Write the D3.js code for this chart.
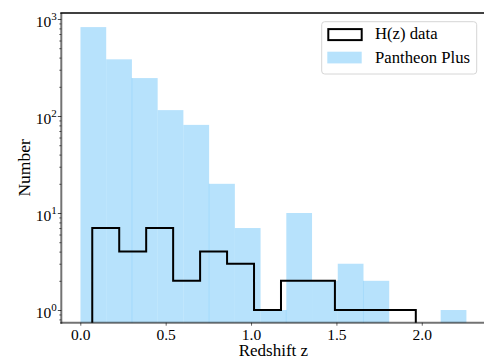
<!DOCTYPE html>
<html>
<head>
<meta charset="utf-8">
<script src="https://cdn.jsdelivr.net/npm/d3@7"></script>
<style>
body { margin: 0; background: #fff; }
text { font-family: "Liberation Serif", "Times New Roman", serif; fill: #000; }
</style>
</head>
<body>
<svg id="chart" width="484" height="358"></svg>
<script>
// Pantheon+ redshift histogram, 15 equal bins
var panZMin = 0.001, panZMax = 2.26137;
var panCounts = [825, 384, 246, 115, 81, 20, 7, 1, 10, 2, 3, 2, 0, 0, 1];
// H(z) cosmic chronometer histogram, 12 equal bins
var hzZMin = 0.07, hzZMax = 1.965;
var hzCounts = [7, 4, 7, 2, 4, 3, 1, 2, 2, 1, 1, 1];
var xTicks = [0.0, 0.5, 1.0, 1.5, 2.0];
var yTicks = [1, 10, 100, 1000];
var legendLabels = ['H(z) data', 'Pantheon Plus'];

var svg = d3.select('#chart');
var axLeft = 61.3, axRight = 485.6, axTop = 13, axBottom = 322.7;

var x = d3.scaleLinear().domain([-0.1113, 2.3738]).range([axLeft, axRight]);
var y = d3.scaleLog().domain([0.74, 1153]).range([axBottom, axTop]);

function edges(lo, hi, n) {
    var w = (hi - lo) / n, out = [];
    for (var i = 0; i <= n; i++) out.push(lo + i * w);
    return out;
}
var panEdges = edges(panZMin, panZMax, panCounts.length);
var hzEdges = edges(hzZMin, hzZMax, hzCounts.length);

var blue = '#87cefa';

// pantheon bars
svg.append('g').selectAll('rect')
    .data(panCounts.map(function (c, i) { return {c: c, x0: panEdges[i], x1: panEdges[i + 1]}; })
        .filter(function (d) { return d.c > 0; }))
    .enter().append('rect')
    .attr('x', function (d) { return x(d.x0); })
    .attr('width', function (d) { return x(d.x1) - x(d.x0); })
    .attr('y', function (d) { return y(d.c); })
    .attr('height', function (d) { return axBottom - y(d.c); })
    .attr('fill', blue)
    .attr('fill-opacity', 0.6);

// faint seams where neighbouring bars overlap (antialiasing in the original)
var seams = [];
panEdges.forEach(function (e, i) {
    if (i % 3 == 2 && i < panCounts.length && panCounts[i - 1] > 0 && panCounts[i] > 0)
        seams.push({x: e, c: Math.min(panCounts[i - 1], panCounts[i])});
});
svg.append('g').selectAll('line')
    .data(seams)
    .enter().append('line')
    .attr('x1', function (d) { return x(d.x); })
    .attr('x2', function (d) { return x(d.x); })
    .attr('y1', function (d) { return y(d.c); })
    .attr('y2', axBottom)
    .attr('stroke', blue)
    .attr('stroke-opacity', 0.45)
    .attr('stroke-width', 1);

// H(z) step outline
var stepPts = [[hzEdges[0], 0.74]];
hzCounts.forEach(function (c, i) {
    stepPts.push([hzEdges[i], c]);
    stepPts.push([hzEdges[i + 1], c]);
});
stepPts.push([hzEdges[hzEdges.length - 1], 0.74]);
svg.append('path')
    .attr('d', d3.line().x(function (d) { return x(d[0]); }).y(function (d) { return y(d[1]); })(stepPts))
    .attr('fill', 'none')
    .attr('stroke', '#000')
    .attr('stroke-width', 2)
    .attr('stroke-linejoin', 'miter');

// x axis
var xAxis = svg.append('g')
    .attr('transform', 'translate(0,' + axBottom + ')')
    .call(d3.axisBottom(x).tickValues(xTicks).tickSize(3).tickPadding(3.2).tickFormat(d3.format('.1f')));
xAxis.select('.domain').remove();
xAxis.selectAll('line').attr('stroke', '#000').attr('stroke-opacity', 0.6);
xAxis.selectAll('text').style('font-size', '15.5px').attr('font-family', null);

// y axis major + minor ticks
var minors = [];
[0.1, 1, 10, 100, 1000].forEach(function (b) {
    for (var k = 2; k <= 9; k++) {
        var v = b * k;
        if (v >= 0.74 && v <= 1153) minors.push(v);
    }
});
var yMinor = svg.append('g')
    .attr('transform', 'translate(' + axLeft + ',0)')
    .call(d3.axisLeft(y).tickValues(minors).tickSize(2).tickFormat(''));
yMinor.select('.domain').remove();
yMinor.selectAll('line').attr('stroke', '#000').attr('stroke-opacity', 0.6);

var yAxis = svg.append('g')
    .attr('transform', 'translate(' + axLeft + ',0)')
    .call(d3.axisLeft(y).tickValues(yTicks).tickSize(3.5).tickFormat(''));
yAxis.select('.domain').remove();
yAxis.selectAll('line').attr('stroke', '#000').attr('stroke-opacity', 0.7);

var yLab = svg.append('g').selectAll('text')
    .data(yTicks)
    .enter().append('text')
    .attr('x', axLeft - 4.5)
    .attr('y', function (d) { return y(d) + 8; })
    .attr('text-anchor', 'end')
    .style('font-size', '15.5px');
yLab.append('tspan').text('10');
yLab.append('tspan')
    .attr('dy', -7)
    .style('font-size', '11px')
    .text(function (d) { return String(Math.round(Math.log10(d))); });

// spines
svg.append('line').attr('x1', axLeft).attr('x2', axLeft).attr('y1', axTop).attr('y2', axBottom + 1)
    .attr('stroke', '#000').attr('stroke-opacity', 0.55).attr('stroke-width', 2);
svg.append('line').attr('x1', axLeft - 1).attr('x2', axRight).attr('y1', axBottom).attr('y2', axBottom)
    .attr('stroke', '#000').attr('stroke-opacity', 0.55).attr('stroke-width', 2);
svg.append('line').attr('x1', axLeft - 1).attr('x2', axRight).attr('y1', axTop).attr('y2', axTop)
    .attr('stroke', '#000').attr('stroke-width', 1.3);

// axis titles
svg.append('text')
    .attr('x', (axLeft + axRight) / 2)
    .attr('y', 355.5)
    .attr('text-anchor', 'middle')
    .style('font-size', '17px')
    .text('Redshift z');
svg.append('text')
    .attr('transform', 'translate(30,' + (axTop + axBottom) / 2 + ') rotate(-90)')
    .attr('text-anchor', 'middle')
    .style('font-size', '17.5px')
    .text('Number');

// legend
var lg = svg.append('g').attr('transform', 'translate(321.7,21.7)');
lg.append('rect')
    .attr('width', 155).attr('height', 52.3).attr('rx', 3)
    .attr('fill', '#fff').attr('fill-opacity', 0.8)
    .attr('stroke', '#d6d6d6').attr('stroke-width', 1);
lg.append('rect')
    .attr('x', 6.6).attr('y', 7.4).attr('width', 33.4).attr('height', 11)
    .attr('fill', 'none').attr('stroke', '#000').attr('stroke-width', 2);
lg.append('rect')
    .attr('x', 5.6).attr('y', 30).attr('width', 34.4).attr('height', 11.7)
    .attr('fill', blue).attr('fill-opacity', 0.6);
lg.selectAll('text.lab')
    .data(legendLabels)
    .enter().append('text')
    .attr('class', 'lab')
    .attr('x', 53.3)
    .attr('y', function (d, i) { return 17.8 + i * 24; })
    .style('font-size', '16.7px')
    .text(function (d) { return d; });
</script>
</body>
</html>
